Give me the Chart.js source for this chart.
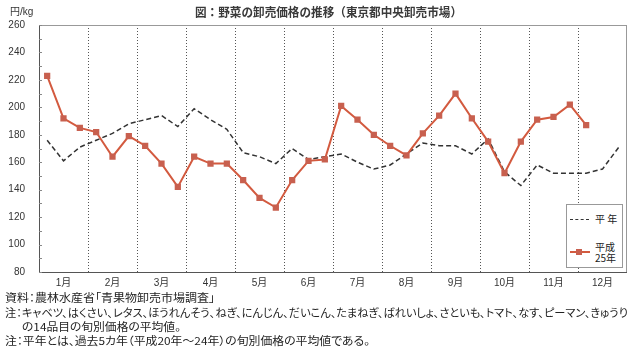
<!DOCTYPE html>
<html><head><meta charset="utf-8">
<script src="https://cdn.jsdelivr.net/npm/chart.js@4.4.1/dist/chart.umd.min.js"></script>
<style>
html,body{margin:0;padding:0;background:#fff;}
#wrap{position:relative;width:640px;height:355px;overflow:hidden;font-family:"Noto Sans CJK JP","Liberation Sans",sans-serif;color:#222;}
canvas{position:absolute;left:0;top:0;}
.t{position:absolute;white-space:nowrap;transform-origin:0 50%;line-height:1;font-feature-settings:"palt";}
.t.nop{font-feature-settings:normal;}
</style></head><body>
<div id="wrap">
<canvas id="c" width="640" height="355"></canvas>
<div class="t fit nop" data-w="267" style="left:195px;top:6px;font-size:12px;font-weight:bold;color:#3a3a3a">図：野菜の卸売価格の推移（東京都中央卸売市場）</div>
<div class="t" style="left:10px;top:7px;font-size:10px;color:#333;font-family:'Liberation Sans','Noto Sans CJK JP',sans-serif">円/kg</div>
<div id="leg" style="position:absolute;left:566px;top:204px;width:55px;height:62px;border:1px solid #999;background:#fff;">
  <div style="position:absolute;left:3px;top:14px;width:19px;border-top:1.5px dashed #333"></div>
  <div class="t" style="left:28px;top:9px;font-size:10px;color:#222">平 年</div>
  <div style="position:absolute;left:3px;top:46px;width:20px;border-top:2px solid #d35a3f"></div>
  <div style="position:absolute;left:9px;top:44px;width:6px;height:6px;background:#c8604f"></div>
  <div class="t" style="left:28px;top:36px;font-size:10px;line-height:11px;color:#222">平成<br>25年</div>
</div>
<div class="t fit" data-w="210" style="left:5px;top:292px;font-size:11px">資料：農林水産省「青果物卸売市場調査」</div>
<div class="t fit" data-w="623" style="left:5px;top:307px;font-size:11px">注：キャベツ、はくさい、レタス、ほうれんそう、ねぎ、にんじん、だいこん、たまねぎ、ばれいしょ、さといも、トマト、なす、ピーマン、きゅうり</div>
<div class="t fit" data-w="159" style="left:22px;top:321px;font-size:11px">の14品目の旬別価格の平均値。</div>
<div class="t fit" data-w="365" style="left:5px;top:335px;font-size:11px">注：平年とは、過去5カ年（平成20年～24年）の旬別価格の平均値である。</div>
</div>
<script>
const months = ['1月','2月','3月','4月','5月','6月','7月','8月','9月','10月','11月','12月'];
const periods = ['上旬','中旬','下旬'];
const labels = months.flatMap(m => periods.map(p => m + p));
const heinen = [176,161,171,176,181,188,191,194,186,199,191,184,
                167,164,159,170,162,164,166,160,155,158,166,174,
                172,172,166,177,153,143,158,152,152,152,155,171];
const h25 = [223,192,185,182,164,179,172,159,142,164,159,159,
             147,134,127,147,161,162,201,191,180,172,165,181,
             194,210,192,175,152,175,191,193,202,187,null,null];
const yMin = 80, yMax = 260, yStep = 20, yMinor = 10;

const framePlugin = {
  id:'frame',
  beforeDatasetsDraw(chart){
    const {ctx, chartArea:a, scales} = chart;
    ctx.save();
    ctx.lineWidth = 1;
    ctx.strokeStyle = '#999';
    ctx.strokeRect(a.left+0.5, a.top+0.5, a.right-a.left-1, a.bottom-a.top);
    ctx.strokeStyle = '#555';
    ctx.beginPath();
    ctx.moveTo(a.left+0.5, a.top); ctx.lineTo(a.left+0.5, a.bottom+0.5);
    ctx.lineTo(a.right, a.bottom+0.5);
    ctx.stroke();
    ctx.strokeStyle = '#888';
    ctx.beginPath();
    for (let v = yMin; v <= yMax; v += yMinor) {
      const y = Math.round(scales.y.getPixelForValue(v)) + 0.5;
      ctx.moveTo(a.left, y); ctx.lineTo(a.left + 3, y);
    }
    ctx.stroke();
    ctx.restore();
  }
};

new Chart(document.getElementById('c'), {
  type:'line',
  data:{labels, datasets:[
    {label:'平 年', data:heinen, borderColor:'#333', borderWidth:1.5, borderDash:[5,3],
     pointRadius:0, fill:false, tension:0, order:2},
    {label:'平成25年', data:h25, borderColor:'#d35a3f', borderWidth:2, pointStyle:'rect',
     pointRadius:3, pointBackgroundColor:'#c8604f', pointBorderColor:'#c8604f',
     fill:false, tension:0, order:1}
  ]},
  options:{
    responsive:false, animation:false, devicePixelRatio:1,
    layout:{padding:{left:0,right:13,top:25,bottom:0}},
    plugins:{legend:{display:false}, title:{display:false}, tooltip:{enabled:false}},
    scales:{
      x:{
        offset:true,
        grid:{offset:true, drawTicks:false, lineWidth:1,
          color:(c)=> (c.index>0 && c.index<36 && c.index%3===0) ? '#555' : 'rgba(0,0,0,0)'},
        border:{display:false, dash:[1,2]},
        ticks:{autoSkip:false, maxRotation:0, padding:5, color:'#333',
          font:{size:10, family:"'Liberation Sans','Noto Sans CJK JP',sans-serif"},
          callback:(v,i)=> i%3===1 ? months[(i-1)/3] : ''},
        afterFit:(s)=>{ s.height = 83; }
      },
      y:{
        min:yMin, max:yMax,
        grid:{display:false},
        border:{display:false},
        ticks:{stepSize:yStep, padding:6, color:'#333',
          font:{size:10, family:"'Liberation Sans',sans-serif"}},
        afterFit:(s)=>{ s.width = 39; }
      }
    }
  },
  plugins:[framePlugin]
});

function fitAll(){
  document.querySelectorAll('.fit').forEach(el=>{
    el.style.transform = 'none';
    const w = el.getBoundingClientRect().width;
    const target = parseFloat(el.dataset.w);
    if (w > 0) el.style.transform = 'scaleX(' + (target / w) + ')';
  });
}
fitAll();
if (document.fonts && document.fonts.ready) document.fonts.ready.then(fitAll);
window.addEventListener('load', fitAll);
</script>
</body></html>
